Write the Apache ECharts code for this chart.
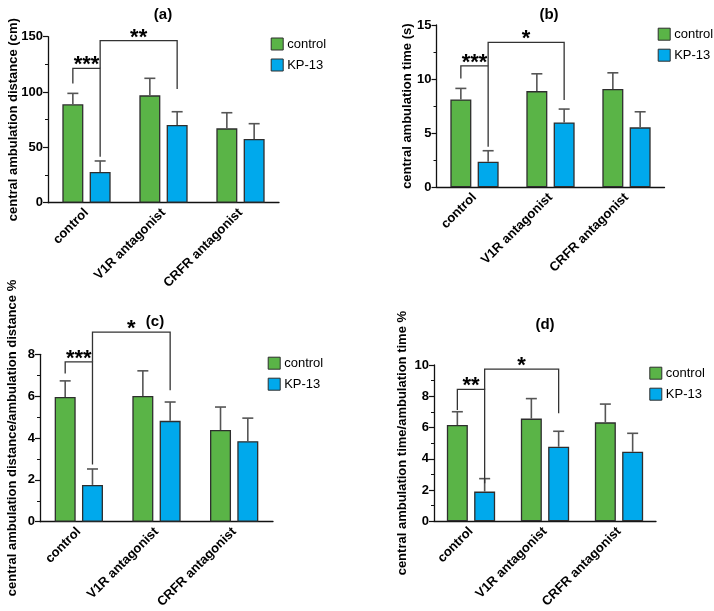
<!DOCTYPE html>
<html>
<head>
<meta charset="utf-8">
<script src="https://cdn.jsdelivr.net/npm/echarts@6/dist/echarts.min.js"></script>
<style>html,body{margin:0;padding:0;background:#fff;}#c{width:714px;height:611px;}</style>
</head>
<body>
<div id="c"></div>
<script>
// ---------- data ----------
const categories = ['control', 'V1R antagonist', 'CRFR antagonist'];
const seriesNames = ['control', 'KP-13'];

// (a) central ambulation distance (cm)
const aControlMean = [88.9, 97.0, 67.2];
const aControlSem  = [9.9, 15.4, 14.1];
const aKpMean      = [27.7, 70.2, 57.5];
const aKpSem       = [10.0, 12.0, 13.9];
const aYMax = 150, aYInterval = 50;
// bracket: [cat1, side1, cat2, side2, yTop, yLeftEnd, yRightEnd]
const aBrackets = [[0, -1, 0, 1, 121.4, 107.8, 41.5], [0, 1, 1, 1, 146.4, 121.4, 102.7]];
const aBracketLabels = ['***', '**'];

// (b) central ambulation time (s)
const bControlMean = [8.12, 8.89, 9.08];
const bControlSem  = [1.02, 1.60, 1.50];
const bKpMean      = [2.36, 6.00, 5.54];
const bKpSem       = [1.02, 1.23, 1.44];
const bYMax = 15, bYInterval = 5;
const bBrackets = [[0, -1, 0, 1, 11.23, 10.06, 3.75], [0, 1, 1, 1, 13.4, 11.23, 8.06]];
const bBracketLabels = ['***', '*'];

// (c) central ambulation distance/ambulation distance %
const cControlMean = [5.96, 6.01, 4.38];
const cControlSem  = [0.77, 1.20, 1.10];
const cKpMean      = [1.76, 4.82, 3.85];
const cKpSem       = [0.76, 0.90, 1.10];
const cYMax = 8, cYInterval = 2;
const cBrackets = [[0, -1, 0, 1, 7.64, 7.08, 2.73], [0, 1, 1, 1, 9.06, 7.64, 6.28]];
const cBracketLabels = ['***', '*'];

// (d) central ambulation time/ambulation time %
const dControlMean = [6.16, 6.57, 6.33];
const dControlSem  = [0.85, 1.28, 1.17];
const dKpMean      = [1.90, 4.77, 4.45];
const dKpSem       = [0.83, 0.99, 1.18];
const dYMax = 10, dYInterval = 2;
const dBrackets = [[0, -1, 0, 1, 8.44, 7.12, 2.43], [0, 1, 1, 1, 9.74, 8.44, 6.91]];
const dBracketLabels = ['**', '*'];

const panelTitles = ['(a)', '(b)', '(c)', '(d)'];
const yNames = ['central ambulation distance (cm)', 'central ambulation time (s)',
  'central ambulation distance/ambulation distance %', 'central ambulation time/ambulation time %'];

// ---------- styles ----------
const FONT = "'Liberation Sans', Arial, Helvetica, sans-serif";
const GREEN = '#5AB447';
const BLUE = '#00A9EC';
const BORDER = '#2e2e2e';
const ERR = '#555555';
const BAR_W = 21;
const BAR_GAP = 0.30;
const OFF = (BAR_W + BAR_W * BAR_GAP) / 2;
const CAP = 5.5;

const grids = [
  {left: 48, top: 36.7, width: 231, height: 166},
  {left: 436.5, top: 25, width: 228, height: 162.3},
  {left: 40, top: 354.3, width: 233, height: 167.5},
  {left: 434, top: 365, width: 222, height: 156.3}
];
const yCfg = [[aYMax, aYInterval, 28], [bYMax, bYInterval, 23], [cYMax, cYInterval, 21], [dYMax, dYInterval, 25]];
const legendPos = [[270.7, 37.5], [657.7, 27.7], [267.7, 356.7], [649.3, 366.7]];
const titlePos = [[163, 15], [549, 15], [155, 322], [545, 325]];

const panels = [
  [aControlMean, aControlSem, aKpMean, aKpSem, aBrackets, aBracketLabels],
  [bControlMean, bControlSem, bKpMean, bKpSem, bBrackets, bBracketLabels],
  [cControlMean, cControlSem, cKpMean, cKpSem, cBrackets, cBracketLabels],
  [dControlMean, dControlSem, dKpMean, dKpSem, dBrackets, dBracketLabels]
];

function errSeries(p, means, sems, side) {
  return {
    type: 'custom', xAxisIndex: p, yAxisIndex: p, clip: false, z: 4, silent: true,
    data: means.map((m, i) => [i, m, m + sems[i]]),
    renderItem(params, api) {
      const c0 = api.coord([api.value(0), api.value(1)]);
      const c1 = api.coord([api.value(0), api.value(2)]);
      const x = c0[0] + side * OFF;
      return {type: 'group', children: [
        {type: 'line', shape: {x1: x, y1: c0[1], x2: x, y2: c1[1]}, style: {stroke: ERR, lineWidth: 1.6}},
        {type: 'line', shape: {x1: x - CAP, y1: c1[1], x2: x + CAP, y2: c1[1]}, style: {stroke: ERR, lineWidth: 1.6}}
      ]};
    }
  };
}

function bracketSeries(p, brackets, labels) {
  return {
    type: 'custom', xAxisIndex: p, yAxisIndex: p, clip: false, z: 5, silent: true,
    data: brackets,
    renderItem(params, api) {
      const t1 = api.coord([api.value(0), api.value(4)]);
      const t2 = api.coord([api.value(2), api.value(4)]);
      const l = api.coord([api.value(0), api.value(5)]);
      const r = api.coord([api.value(2), api.value(6)]);
      const xl = t1[0] + api.value(1) * OFF;
      const xr = t2[0] + api.value(3) * OFF;
      const yt = t1[1];
      return {type: 'group', children: [
        {type: 'polyline', shape: {points: [[xl, l[1]], [xl, yt], [xr, yt], [xr, r[1]]]},
          style: {stroke: '#333', lineWidth: 1.3, fill: null}},
        {type: 'text', x: (xl + xr) / 2, y: yt - 3,
          style: {text: labels[params.dataIndex], fill: '#000', fontSize: 22, fontWeight: 'bold',
            fontFamily: FONT, align: 'center', verticalAlign: 'middle'}}
      ]};
    }
  };
}

const xAxis = [], yAxis = [], series = [], legend = [], graphic = [];
panels.forEach((pd, p) => {
  xAxis.push({
    type: 'category', gridIndex: p, data: categories,
    axisLine: {lineStyle: {color: '#111', width: 1.3}},
    axisTick: {alignWithLabel: true, length: 5, lineStyle: {color: '#111', width: 1.2}},
    axisLabel: {rotate: 45, fontSize: 13, fontWeight: 'bold', color: '#000', fontFamily: FONT, margin: 8, interval: 0}
  });
  yAxis.push({
    type: 'value', gridIndex: p, min: 0, max: yCfg[p][0], interval: yCfg[p][1],
    name: yNames[p], nameLocation: 'middle', nameGap: yCfg[p][2], nameMoveOverlap: false,
    nameTextStyle: {fontSize: 13, fontWeight: 'bold', color: '#000', fontFamily: FONT},
    axisLine: {show: true, lineStyle: {color: '#111', width: 1.3}},
    axisTick: {show: true, length: 5, lineStyle: {color: '#111', width: 1.2}},
    minorTick: {show: true, splitNumber: 2, length: 3, lineStyle: {color: '#111', width: 1}},
    splitLine: {show: false},
    axisLabel: {fontSize: 13, fontWeight: 'bold', color: '#000', fontFamily: FONT, margin: 5}
  });
  series.push({
    type: 'bar', name: seriesNames[0], xAxisIndex: p, yAxisIndex: p, data: pd[0],
    barWidth: BAR_W, barGap: (BAR_GAP * 100) + '%',
    itemStyle: {color: GREEN, borderColor: BORDER, borderWidth: 1.3}
  });
  series.push({
    type: 'bar', name: seriesNames[1], xAxisIndex: p, yAxisIndex: p, data: pd[2],
    barWidth: BAR_W, barGap: (BAR_GAP * 100) + '%',
    itemStyle: {color: BLUE, borderColor: BORDER, borderWidth: 1.3}
  });
  series.push(errSeries(p, pd[0], pd[1], -1));
  series.push(errSeries(p, pd[2], pd[3], 1));
  series.push(bracketSeries(p, pd[4], pd[5]));
  legend.push({
    orient: 'vertical', left: legendPos[p][0], top: legendPos[p][1], data: seriesNames,
    padding: 0, icon: 'rect', itemWidth: 12, itemHeight: 12, itemGap: 8, selectedMode: false,
    itemStyle: {borderColor: BORDER, borderWidth: 1},
    textStyle: {fontSize: 13, color: '#000', fontFamily: FONT, padding: [0, 0, 0, -1]}
  });
  graphic.push({
    type: 'text', x: titlePos[p][0], y: titlePos[p][1],
    style: {text: panelTitles[p], fill: '#000', fontSize: 15, fontWeight: 'bold', fontFamily: FONT,
      align: 'center', verticalAlign: 'middle'}
  });
});

const chart = echarts.init(document.getElementById('c'), null, {renderer: 'canvas'});
chart.setOption({
  animation: false,
  backgroundColor: '#fff',
  textStyle: {fontFamily: FONT},
  grid: grids,
  xAxis: xAxis,
  yAxis: yAxis,
  legend: legend,
  series: series,
  graphic: graphic
});
</script>
</body>
</html>
